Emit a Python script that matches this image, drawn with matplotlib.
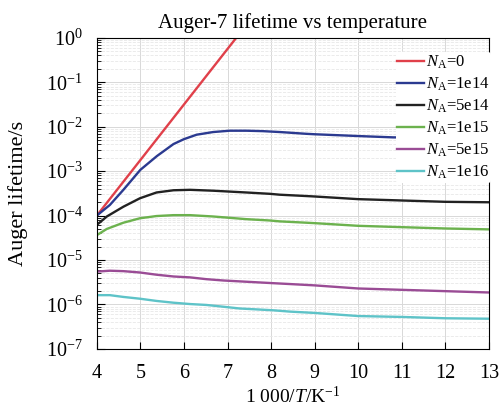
import numpy as np
import matplotlib
matplotlib.use("Agg")
import matplotlib.pyplot as plt
from matplotlib.ticker import LogLocator, NullFormatter

plt.rcParams['font.family'] = ['Liberation Serif', 'DejaVu Serif']
plt.rcParams['mathtext.fontset'] = 'custom'
plt.rcParams['mathtext.rm'] = 'Liberation Serif'
plt.rcParams['mathtext.it'] = 'Liberation Serif:italic'

# --- data (x = 1000/T, y = log10 lifetime in s) ---
x_0 = [4.0, 5.0, 6.0, 7.0, 7.5]
log_0 = [-4.0, -2.75, -1.5, -0.25, 0.375]

x_1e14 = [4.0, 4.3, 4.61, 5.0, 5.38, 5.76, 6.0, 6.29, 6.67, 7.05, 7.43, 7.81, 8.2, 8.81, 9.0, 10.0, 10.8, 13.0]
log_1e14 = [-4.0, -3.76, -3.42, -2.97, -2.66, -2.39, -2.28, -2.18, -2.12, -2.09, -2.09, -2.10, -2.12, -2.16, -2.17, -2.21, -2.24, -2.26]

x_5e14 = [4.0, 4.23, 4.61, 4.99, 5.37, 5.76, 6.14, 6.67, 7.43, 7.97, 8.2, 8.81, 9.0, 10.0, 11.0, 12.0, 13.0]
log_5e14 = [-4.21, -4.02, -3.80, -3.61, -3.48, -3.43, -3.42, -3.44, -3.48, -3.51, -3.53, -3.56, -3.57, -3.63, -3.66, -3.69, -3.70]

x_1e15 = [4.0, 4.23, 4.61, 4.99, 5.37, 5.76, 6.14, 6.67, 7.43, 7.97, 8.2, 8.81, 9.0, 10.0, 11.0, 12.0, 13.0]
log_1e15 = [-4.44, -4.30, -4.16, -4.06, -4.01, -3.99, -3.99, -4.02, -4.08, -4.11, -4.13, -4.16, -4.17, -4.23, -4.26, -4.29, -4.31]

x_5e15 = [4.0, 4.3, 4.61, 4.99, 5.37, 5.76, 6.14, 6.51, 6.90, 7.28, 7.66, 8.04, 8.43, 9.0, 10.0, 11.0, 12.0, 13.0]
log_5e15 = [-5.26, -5.24, -5.25, -5.28, -5.33, -5.37, -5.39, -5.43, -5.46, -5.48, -5.50, -5.52, -5.54, -5.57, -5.64, -5.67, -5.70, -5.73]

x_1e16 = [4.0, 4.3, 4.61, 4.99, 5.37, 5.76, 6.14, 6.51, 6.90, 7.28, 7.66, 8.04, 8.43, 9.0, 10.0, 11.0, 12.0, 13.0]
log_1e16 = [-5.79, -5.79, -5.83, -5.87, -5.92, -5.96, -5.99, -6.01, -6.05, -6.09, -6.11, -6.13, -6.16, -6.19, -6.26, -6.28, -6.31, -6.32]

labels = ['0', '1e14', '5e14', '1e15', '5e15', '1e16']
colors = ['#e0404a', '#2b3a90', '#222222', '#6cb24e', '#9a4c95', '#5ec3c8']

fig = plt.figure(figsize=(4.99, 4.11), dpi=100)
ax = fig.add_axes([0.194, 0.151, 0.786, 0.757])

series = [(x_0, log_0), (x_1e14, log_1e14), (x_5e14, log_5e14),
          (x_1e15, log_1e15), (x_5e15, log_5e15), (x_1e16, log_1e16)]
for (xs, ls), lab, c in zip(series, labels, colors):
    ax.plot(xs, 10 ** np.array(ls), color=c, lw=1.7, label=r'$N_\mathrm{A}$=' + lab,
            solid_joinstyle='round')

ax.set_yscale('log')
ax.set_xlim(4, 13)
ax.set_ylim(1e-7, 1)
ax.set_xticks(range(4, 14))
ax.yaxis.set_major_locator(LogLocator(base=10, numticks=10))
ax.yaxis.set_minor_locator(LogLocator(base=10, subs=np.arange(2, 10), numticks=10))
ax.yaxis.set_minor_formatter(NullFormatter())
ax.tick_params(which='both', direction='in', labelsize=14.5)
ax.tick_params(axis='x', which='major', length=5, pad=11)
ax.tick_params(axis='y', which='major', length=6, pad=10)
ax.tick_params(which='minor', length=3)
ax.grid(True, which='major', color='#d8d8d8', lw=0.7)
ax.grid(True, which='minor', axis='y', color='#e8e8e8', lw=0.6, ls='--')

ax.set_title('Auger-7 lifetime vs temperature', fontsize=15, pad=7)
ax.set_xlabel(r'1 000/$T$/K$^{-1}$', fontsize=14, labelpad=2)
ax.set_ylabel('Auger lifetime/s', fontsize=16, labelpad=13)

leg = ax.legend(loc='upper right', fontsize=12, handlelength=1.6,
                handletextpad=0.1, labelspacing=0.28, borderaxespad=0.0,
                bbox_to_anchor=(1.005, 0.955), frameon=True, framealpha=1.0,
                borderpad=0.1)
leg.get_frame().set_edgecolor('none')
leg.get_frame().set_facecolor('white')

fig.savefig('out.png', dpi=100)
